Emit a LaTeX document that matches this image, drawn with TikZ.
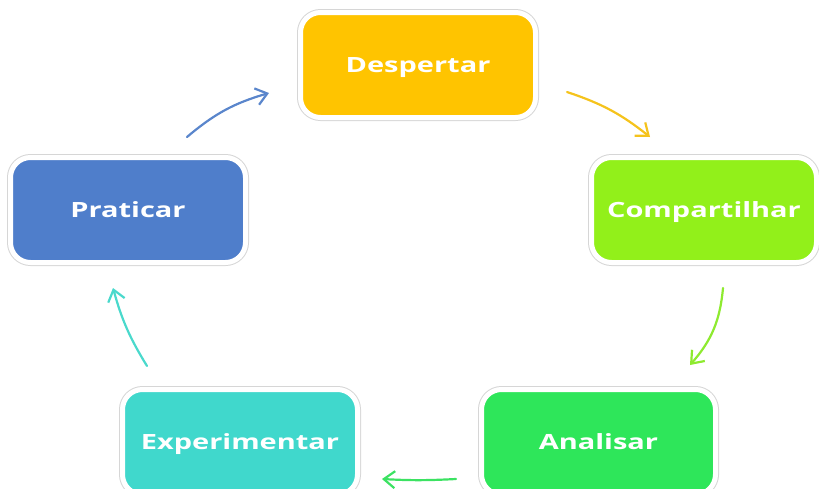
\documentclass[tikz,border=0pt]{standalone}
\usepackage{fontspec}
\usepackage{graphicx}
\setmainfont{Open Sans}
\usetikzlibrary{arrows.meta}
\definecolor{cDesp}{HTML}{FFC400}
\definecolor{cComp}{HTML}{92F01A}
\definecolor{cAnal}{HTML}{2EE65A}
\definecolor{cExpe}{HTML}{40D8CC}
\definecolor{cPrat}{HTML}{4F7ECB}
\definecolor{aDesp}{HTML}{F5C31C}
\definecolor{aComp}{HTML}{8EEA30}
\definecolor{aAnal}{HTML}{3CE262}
\definecolor{aExpe}{HTML}{4AD9CC}
\definecolor{aPrat}{HTML}{5A86CC}
\definecolor{rim}{HTML}{D6D6D6}
\tikzset{
  stepbox/.style={rounded corners=20pt, minimum width=235pt, minimum height=105pt,
    preaction={draw=rim, line width=7pt}, draw=white, line width=5pt,
    text=white, font=\fontsize{21}{25}\selectfont\bfseries, inner sep=0pt,
    text height=15pt, text depth=0pt},
  cyc/.style={line width=2.2pt, line cap=round,
    -{Straight Barb[length=11pt,width=17pt,line width=2.2pt]}}
}
\newcommand{\wide}[1]{\scalebox{1.38}[1]{#1}}
\begin{document}
\begin{tikzpicture}[x=1pt,y=-1pt]
\useasboundingbox (0,0) rectangle (819,488);
\node[stepbox, fill=cDesp] (desp) at (418,65) {\wide{Despertar}};
\node[stepbox, fill=cComp, minimum width=225pt] (comp) at (704,210) {\wide{Compartilhar}};
\node[stepbox, fill=cAnal, minimum width=234pt] (anal) at (598.5,442) {\wide{Analisar}};
\node[stepbox, fill=cExpe] (expe) at (240,442) {\wide{Experimentar}};
\node[stepbox, fill=cPrat] (prat) at (128,210) {\wide{Praticar}};
\coordinate (p1) at (187,137); \coordinate (q1) at (269,93);
\coordinate (p2) at (567,92);  \coordinate (q2) at (650,137);
\coordinate (p3) at (723,288); \coordinate (q3) at (690,365);
\coordinate (p4) at (456,479); \coordinate (q4) at (382,479);
\coordinate (p5) at (147,366); \coordinate (q5) at (113,288);
\draw[cyc, aPrat] (p1) to[bend left=12] (q1);
\draw[cyc, aDesp] (p2) to[bend left=10] (q2);
\draw[cyc, aComp] (p3) to[bend left=18] (q3);
\draw[cyc, aAnal] (p4) to[bend left=3] (q4);
\draw[cyc, aExpe] (p5) to[bend left=8] (q5);
\end{tikzpicture}
\end{document}
